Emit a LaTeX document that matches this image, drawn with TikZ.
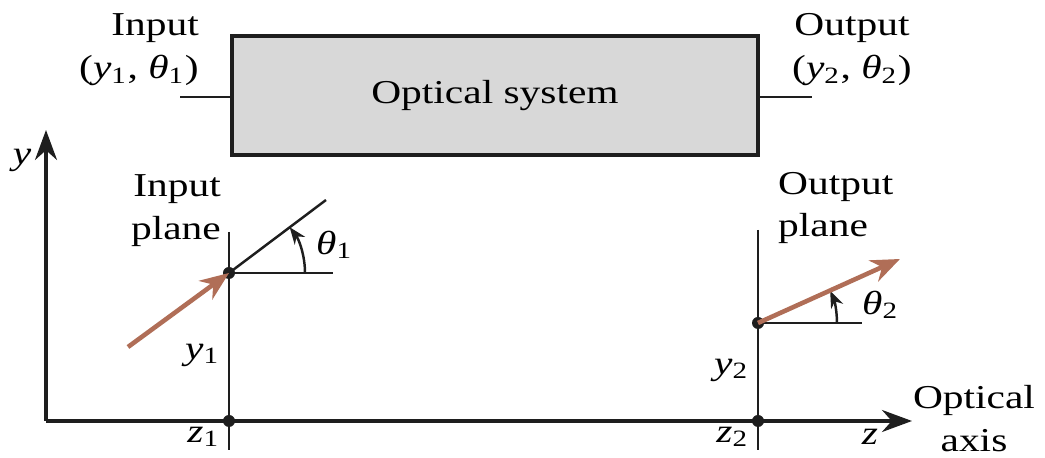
\documentclass[tikz,border=0pt]{standalone}
\usepackage{fontspec}
\setmainfont{Liberation Serif}[FakeStretch=1.24]
\usepackage{xcolor}
\usepackage{tikz}
\usetikzlibrary{positioning, arrows.meta}
\definecolor{ink}{HTML}{1E1E1E}
\definecolor{ray}{HTML}{B06E57}
\definecolor{boxfill}{HTML}{D8D8D8}
\newcommand{\sym}[2]{\textit{#1}\textsubscript{#2}}
\tikzset{
  sysbox/.style = {rectangle, draw=ink, line width=1.1pt, fill=boxfill,
                   minimum width=5.26cm, minimum height=1.19cm, font=\fontsize{9.5}{12.2}\selectfont},
  lbl/.style    = {inner sep=1pt, font=\fontsize{9.5}{12.2}\selectfont},
  plane/.style  = {draw=ink, line width=0.7pt},
  axis/.style   = {-{Stealth[length=3mm,width=2.2mm]}, line width=0.9pt, draw=ink},
  ar/.style     = {-{Stealth[length=2.9mm,width=2.3mm]}, line width=1.3pt, draw=ray},
  angarr/.style = {-{Stealth[length=1.7mm,width=1.3mm]}, line width=0.7pt, draw=ink},
  dot/.style    = {circle, fill=ink, inner sep=0pt, minimum size=0.12cm},
}
\begin{document}
\begin{tikzpicture}[x=0.01cm, y=0.01cm]
  \useasboundingbox (0,0) rectangle (1045,458);

  % optical system block
  \node[sysbox] (sys) at (495,362.5) {Optical system};
  \coordinate (inend) at (180,361);
  \coordinate (outend) at (812,361);
  \draw[plane] (inend) -- (inend -| sys.west);
  \draw[plane] (sys.east |- outend) -- (outend);
  \node[lbl, anchor=east, align=right] (inlbl) at (203,408) {Input\\(\sym{y}{1}, \sym{θ}{1})};
  \node[lbl, align=center] (outlbl) at (852,408) {Output\\(\sym{y}{2}, \sym{θ}{2})};

  % axes
  \coordinate (o) at (46,37);
  \coordinate (ytip) at (46,328);
  \coordinate (ztip) at (912,37);
  \draw[axis] (o) -- (ytip);
  \draw[axis] (o) -- (ztip);
  \node[lbl] (ylbl) at (22,298) {\textit{y}};
  \node[lbl] (zlbl) at (870,21) {\textit{z}};
  \node[lbl, align=center] (axlbl) at (974,39) {Optical\\axis};

  % input plane
  \coordinate (in top) at (229,226);
  \coordinate (in bot) at (229,8);
  \draw[plane] (in top) -- (in bot);
  \node[dot] (p1) at (229,185) {};
  \node[dot] (z1) at (229,37) {};
  \coordinate (r1) at (326,258);
  \coordinate (h1) at (333,185);
  \coordinate (src) at (128,111);
  \draw[plane] (p1.center) -- (r1);
  \draw[plane] (p1.center) -- (h1);
  \draw[angarr] (p1.center) ++(76,0) arc[start angle=0, end angle=37, radius=0.76cm];
  \draw[ar] (src) -- (p1.center);
  \node[lbl, anchor=east, align=right] (inpl) at (225,247) {Input\\plane};
  \node[lbl, anchor=west] (th1) at (312,213) {\sym{θ}{1}};
  \node[lbl, anchor=east] (y1) at (224,103) {\sym{y}{1}};
  \node[lbl, anchor=east] (z1lbl) at (224,21) {\sym{z}{1}};

  % output plane
  \coordinate (out top) at (758,228);
  \coordinate (out bot) at (758,8);
  \draw[plane] (out top) -- (out bot);
  \node[dot] (p2) at (758,135) {};
  \node[dot] (z2) at (758,37) {};
  \coordinate (r2) at (900,199);
  \coordinate (h2) at (862,135);
  \draw[plane] (p2.center) -- (h2);
  \draw[angarr] (p2.center) ++(79,0) arc[start angle=0, end angle=24, radius=0.79cm];
  \draw[ar] (p2.center) -- (r2);
  \node[lbl, anchor=west, align=left] (outpl) at (774,250) {Output\\plane};
  \node[lbl, anchor=west] (th2) at (858,153) {\sym{θ}{2}};
  \node[lbl, anchor=east] (y2) at (753,88) {\sym{y}{2}};
  \node[lbl, anchor=east] (z2lbl) at (753,21) {\sym{z}{2}};
\end{tikzpicture}
\end{document}
